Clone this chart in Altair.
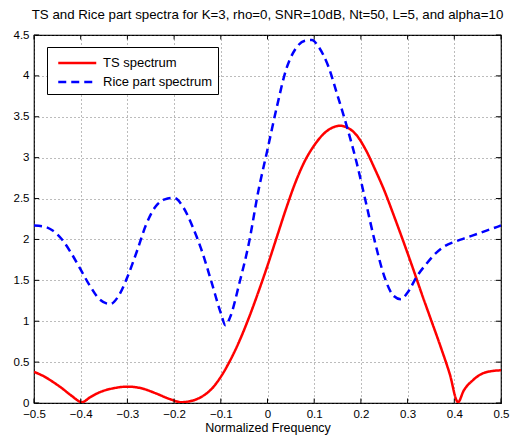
import altair as alt
import pandas as pd

# TS spectrum (red solid)
ts_freq = [-0.5, -0.48, -0.46, -0.44, -0.42, -0.397, -0.38, -0.36, -0.33, -0.30, -0.27, -0.24,
           -0.21, -0.185, -0.16, -0.14, -0.12, -0.10, -0.08, -0.06, -0.04, -0.02, 0.00, 0.02,
           0.04, 0.06, 0.08, 0.10, 0.12, 0.14, 0.155, 0.17, 0.19, 0.21, 0.23, 0.25, 0.27, 0.29,
           0.31, 0.33, 0.35, 0.37, 0.39, 0.408, 0.42, 0.44, 0.46, 0.48, 0.50]
ts_val = [0.38, 0.33, 0.26, 0.18, 0.09, 0.01, 0.07, 0.13, 0.18, 0.20, 0.18, 0.12,
          0.05, 0.01, 0.03, 0.08, 0.17, 0.32, 0.52, 0.76, 1.04, 1.35, 1.68, 2.03,
          2.38, 2.70, 2.96, 3.15, 3.29, 3.37, 3.39, 3.37, 3.28, 3.10, 2.86, 2.60, 2.30, 1.99,
          1.67, 1.34, 1.02, 0.70, 0.36, 0.01, 0.15, 0.28, 0.36, 0.39, 0.40]

# Rice part spectrum (blue dashed)
rice_freq = [-0.5, -0.48, -0.46, -0.44, -0.42, -0.40, -0.38, -0.36, -0.337, -0.32, -0.30, -0.28,
             -0.26, -0.24, -0.22, -0.20, -0.18, -0.16, -0.14, -0.12, -0.10, -0.09, -0.08, -0.06,
             -0.04, -0.02, 0.00, 0.02, 0.04, 0.06, 0.08, 0.095, 0.11, 0.13, 0.15, 0.17, 0.19,
             0.21, 0.23, 0.25, 0.27, 0.285, 0.30, 0.32, 0.34, 0.36, 0.38, 0.40, 0.42, 0.44,
             0.46, 0.48, 0.50]
rice_val = [2.17, 2.16, 2.11, 2.00, 1.83, 1.63, 1.43, 1.27, 1.21, 1.30, 1.54, 1.85,
            2.18, 2.40, 2.49, 2.51, 2.39, 2.15, 1.85, 1.48, 1.10, 0.95, 1.05, 1.47,
            1.95, 2.58, 3.10, 3.62, 4.08, 4.33, 4.43, 4.44, 4.35, 4.12, 3.76, 3.38, 2.96,
            2.47, 1.97, 1.55, 1.31, 1.27, 1.35, 1.55, 1.70, 1.83, 1.92, 1.97, 2.01, 2.05,
            2.09, 2.13, 2.17]

series_names = ["TS spectrum", "Rice part spectrum"]
x_ticks = [-0.5, -0.4, -0.3, -0.2, -0.1, 0.0, 0.1, 0.2, 0.3, 0.4, 0.5]
y_ticks = [0, 0.5, 1, 1.5, 2, 2.5, 3, 3.5, 4, 4.5]

FONT = "Liberation Sans"

df = pd.concat([
    pd.DataFrame({"f": ts_freq, "v": ts_val, "series": series_names[0], "o": range(len(ts_freq))}),
    pd.DataFrame({"f": rice_freq, "v": rice_val, "series": series_names[1], "o": range(len(rice_freq))}),
])

xscale = alt.Scale(domain=[-0.5, 0.5], nice=False, zero=False)
yscale = alt.Scale(domain=[0, 4.5], nice=False)

label_expr = "replace(format(datum.value, '~g'), '-', '\u2212')"

axis_common = dict(grid=True, ticks=False, domain=False, labelFlush=False,
                   gridColor="#555555", gridDash=[1, 3], gridWidth=0.8, gridOpacity=1,
                   labelFont=FONT, labelFontSize=11.5, labelColor="black",
                   titleFont=FONT, titleFontSize=12.5, titleFontWeight="normal", titleColor="black")

legend_common = dict(title=None, orient="none", legendX=13, legendY=12,
                     labelFont=FONT, labelFontSize=13, labelColor="black",
                     symbolType="M-0.5,0H3.5", symbolSize=361, symbolStrokeWidth=2.5,
                     symbolFillColor="transparent",
                     strokeColor="black", fillColor="white", padding=5, rowPadding=1,
                     labelOffset=29)

lines = alt.Chart(df).mark_line(strokeWidth=2.5, interpolate="monotone", clip=True).encode(
    x=alt.X("f:Q", scale=xscale, title="Normalized Frequency",
            axis=alt.Axis(values=x_ticks, labelExpr=label_expr, labelPadding=5, titlePadding=2,
                          **axis_common)),
    y=alt.Y("v:Q", scale=yscale, title=None,
            axis=alt.Axis(values=y_ticks, labelExpr=label_expr, labelPadding=5, **axis_common)),
    color=alt.Color("series:N", scale=alt.Scale(domain=series_names, range=["#ff0000", "#0000ff"]),
                    legend=alt.Legend(**legend_common)),
    strokeDash=alt.StrokeDash("series:N", scale=alt.Scale(domain=series_names, range=[[1, 0], [8, 5]]),
                              legend=alt.Legend(**legend_common)),
    order="o:Q",
)

# inward ticks (MATLAB style) on all four sides
tick_len_y = 0.055
tick_len_x = 0.011
bx = pd.DataFrame({"t": x_ticks})
by = pd.DataFrame({"t": y_ticks})
xt_bottom = alt.Chart(bx).mark_rule(color="black", strokeWidth=1).encode(
    x=alt.X("t:Q", scale=xscale), y=alt.datum(0), y2=alt.datum(tick_len_y))
xt_top = alt.Chart(bx).mark_rule(color="black", strokeWidth=1).encode(
    x=alt.X("t:Q", scale=xscale), y=alt.datum(4.5), y2=alt.datum(4.5 - tick_len_y))
yt_left = alt.Chart(by).mark_rule(color="black", strokeWidth=1).encode(
    y=alt.Y("t:Q", scale=yscale), x=alt.datum(-0.5), x2=alt.datum(-0.5 + tick_len_x))
yt_right = alt.Chart(by).mark_rule(color="black", strokeWidth=1).encode(
    y=alt.Y("t:Q", scale=yscale), x=alt.datum(0.5), x2=alt.datum(0.5 - tick_len_x))

chart = alt.layer(lines, xt_bottom, xt_top, yt_left, yt_right).properties(
    width=467, height=368,
    title=alt.TitleParams("TS and Rice part spectra for K=3, rho=0, SNR=10dB, Nt=50, L=5, and alpha=10",
                          fontSize=13.3, font=FONT, fontWeight="normal", color="black",
                          anchor="middle", offset=8),
    autosize=alt.AutoSizeParams(type="none"),
    padding={"left": 34, "top": 35, "right": 11, "bottom": 34},
    background="white",
).configure_view(stroke="black", strokeWidth=1.2)

chart.save("out.html", embed_options={"renderer": "svg", "actions": False})
